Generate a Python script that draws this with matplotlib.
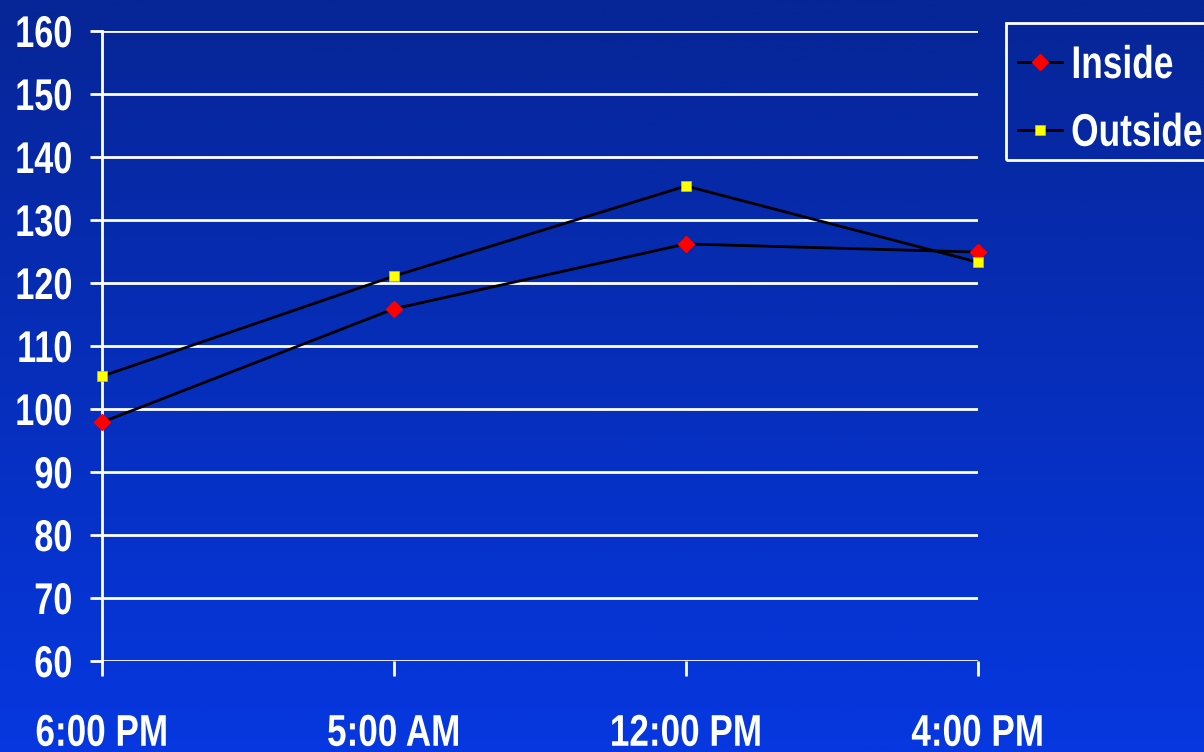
import matplotlib
matplotlib.use("Agg")
import matplotlib.pyplot as plt
import numpy as np
from matplotlib.colors import LinearSegmentedColormap
from matplotlib.patheffects import AbstractPathEffect
from matplotlib.transforms import Affine2D
from matplotlib.patches import Rectangle

categories = ["6:00 PM", "5:00 AM", "12:00 PM", "4:00 PM"]
inside = [97.9, 115.9, 126.2, 124.9]
outside = [105.2, 121.1, 135.4, 123.3]
yticks = [60, 70, 80, 90, 100, 110, 120, 130, 140, 150, 160]

FONT = ["Liberation Sans", "DejaVu Sans"]
plt.rcParams['font.family'] = FONT


class Condense(AbstractPathEffect):
    """Horizontally condense text glyphs (narrow font look)."""
    def __init__(self, sx=0.78, anchor="center"):
        super().__init__()
        self.sx = sx
        self.anchor = anchor

    def draw_path(self, renderer, gc, tpath, affine, rgbFace=None):
        ext = tpath.get_extents()
        if self.anchor == "right":
            cx = ext.x1
        elif self.anchor == "left":
            cx = ext.x0
        else:
            cx = (ext.x0 + ext.x1) / 2
        t = Affine2D().translate(-cx, 0).scale(self.sx, 1).translate(cx, 0) + affine
        renderer.draw_path(gc, tpath, t, rgbFace)


W, H = 1204, 752
fig = plt.figure(figsize=(W/100, H/100), dpi=100)

# gradient background
bg = fig.add_axes([0, 0, 1, 1], zorder=-10)
cmap = LinearSegmentedColormap.from_list("bg", ["#062596", "#0638e0"])
grad = np.linspace(0, 1, 256).reshape(-1, 1)
bg.imshow(grad, aspect="auto", cmap=cmap, extent=[0, 1, 1, 0])
bg.set_axis_off()

ax = fig.add_axes([102/W, 1-661/H, (978-102)/W, (661-31)/H])
ax.set_facecolor("none")
x = np.arange(len(categories))
ax.plot(x, inside, color="black", lw=2, marker="D", markersize=8,
        markerfacecolor="red", markeredgecolor="red", label="Inside", clip_on=False, zorder=3)
ax.plot(x, outside, color="black", lw=2, marker="s", markersize=7.5,
        markerfacecolor="yellow", markeredgecolor="#c8c800", markeredgewidth=0.5,
        label="Outside", clip_on=False, zorder=3)

ax.set_xlim(0, 3)
ax.set_ylim(60, 160)
ax.set_yticks(yticks)
ax.set_xticks(x)
ax.set_xticklabels(categories)
ax.yaxis.grid(True, color="white", lw=2)
ax.set_axisbelow(True)
for s in ["top", "right", "bottom"]:
    ax.spines[s].set_visible(False)
ax.spines["left"].set_color("white")
ax.spines["left"].set_linewidth(2)
ax.tick_params(axis="y", direction="out", length=9, width=2, color="white",
               labelcolor="white", labelsize=32, pad=12)
ax.tick_params(axis="x", direction="out", length=11, width=2, color="white",
               labelcolor="white", labelsize=32, pad=27)
for lab in ax.get_yticklabels():
    lab.set_fontweight("bold")
    lab.set_path_effects([Condense(0.77, "right")])
for lab in ax.get_xticklabels():
    lab.set_fontweight("bold")
    lab.set_path_effects([Condense(0.79, "center")])

# legend frame (extends past right edge as in the reference)
fig.patches.append(Rectangle((1006/W, 1-160/H), 210/W, (160-23)/H,
                             transform=fig.transFigure, fill=False,
                             edgecolor="white", lw=2, zorder=5))
leg = fig.legend(loc="upper left", bbox_to_anchor=(1018/W, 1-44/H),
                 borderaxespad=0, frameon=False,
                 prop={"family": FONT, "weight": "bold", "size": 33},
                 labelcolor="white", handlelength=0.95, handletextpad=0.2,
                 borderpad=0, labelspacing=0.52)
for t in leg.get_texts():
    t.set_path_effects([Condense(0.77, "left")])

fig.savefig("out.png", dpi=100)
